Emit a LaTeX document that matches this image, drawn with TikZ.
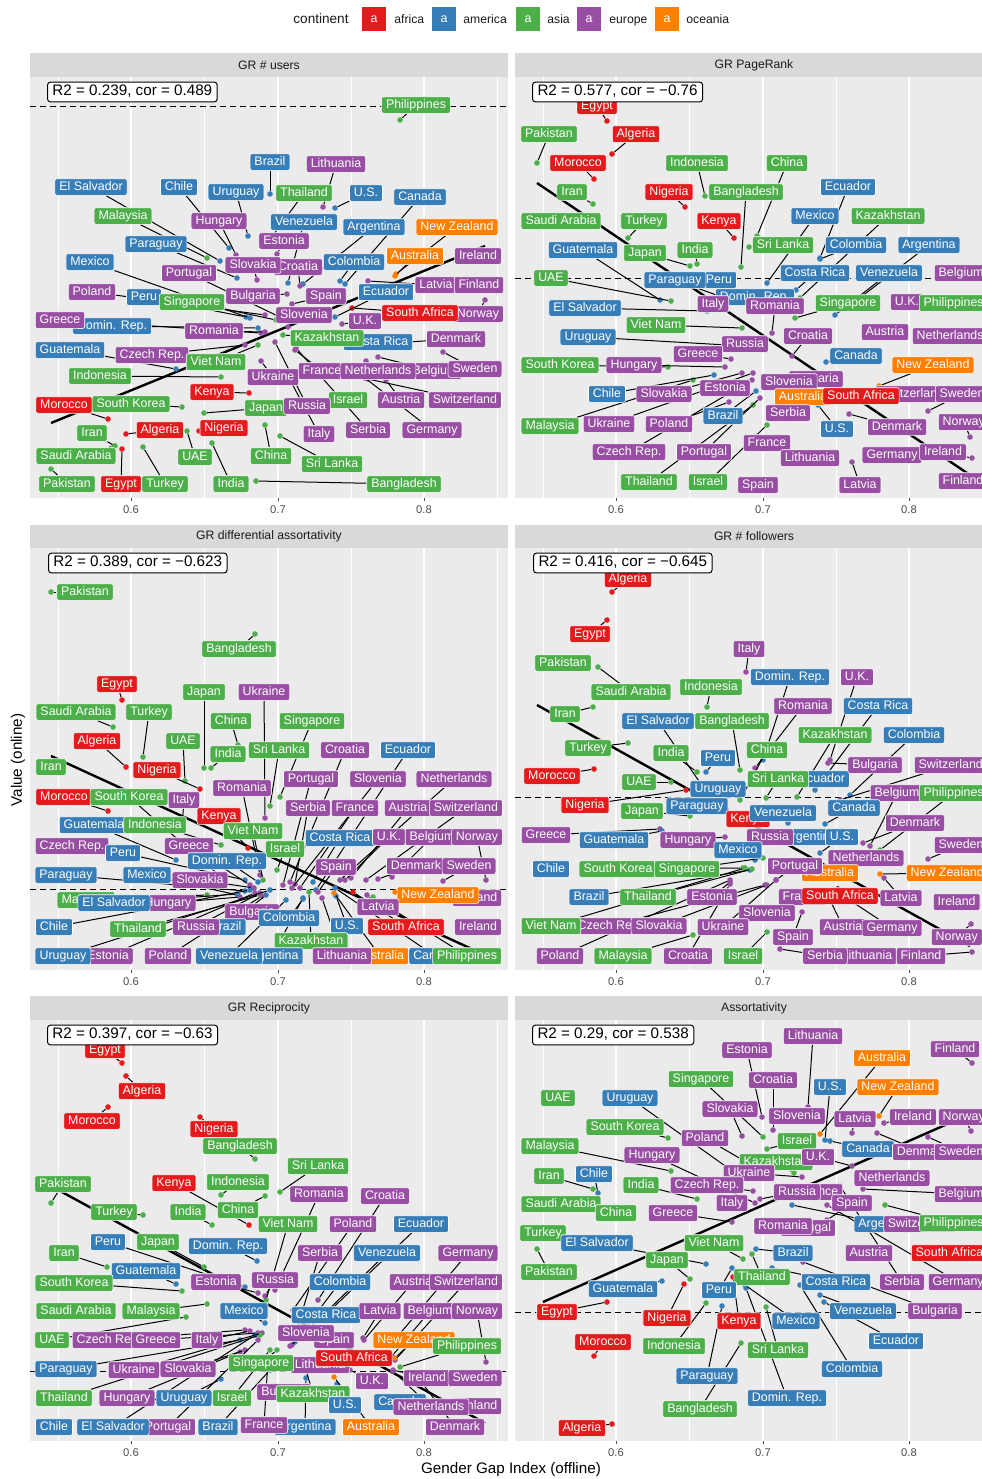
\documentclass[tikz,border=0pt]{standalone}
\usepackage{fontspec}
\setmainfont{Liberation Sans}
\definecolor{cR}{HTML}{E41A1C}
\definecolor{cB}{HTML}{377EB8}
\definecolor{cG}{HTML}{4DAF4A}
\definecolor{cP}{HTML}{984EA3}
\definecolor{cO}{HTML}{FF7F00}
\definecolor{pbg}{HTML}{EBEBEB}
\definecolor{sbg}{HTML}{D9D9D9}
\definecolor{g30}{HTML}{4D4D4D}
\definecolor{g10}{HTML}{1A1A1A}
\tikzset{
  labg/.style={rectangle, font=\fontsize{6.2}{7}\selectfont, inner xsep=2.2pt, inner ysep=1.2pt, text height=4.6pt, text depth=1.3pt},
  lab/.style={labg, rounded corners=1pt, draw=white, line width=0.3pt, text=white},
  pt/.style={circle, inner sep=0pt, minimum size=2.8pt},
  seg/.style={line width=0.5pt, black},
  reg/.style={line width=1.2pt, black},
  hdash/.style={line width=0.5pt, dash pattern=on 3pt off 2pt},
  gminor/.style={white, line width=0.35pt},
  gmajor/.style={white, line width=0.75pt},
  tk/.style={g30, line width=0.5pt},
  tlab/.style={text=g30, font=\fontsize{5.6}{6.5}\selectfont, inner sep=0pt},
  strip/.style={text=g10, font=\fontsize{6.1}{7}\selectfont, inner sep=0pt},
  r2/.style={rectangle, draw=black, fill=white, rounded corners=1.5pt, line width=0.5pt,
    font=\fontsize{7.6}{9}\selectfont, inner xsep=2.5pt, inner ysep=1.4pt, text height=5.5pt, text depth=1.6pt},
  keybox/.style={rectangle, minimum width=12pt, minimum height=12pt, inner sep=0pt,
    text=white, font=\fontsize{6.2}{7}\selectfont},
  legtext/.style={text=g10, font=\fontsize{6.1}{7}\selectfont, inner sep=0pt, anchor=base west},
  legtitle/.style={text=g10, font=\fontsize{6.8}{8}\selectfont, inner sep=0pt, anchor=base west},
  axtitle/.style={font=\fontsize{7.6}{9}\selectfont, inner sep=0pt}
}
\newcounter{lc}
\newcommand\Q{}
\newcommand\Lb{}
% pass A: invisible label geometry + points
\newcommand\PassA{%
  \renewcommand\Q[7][center]{\stepcounter{lc}%
    \path node[labg,anchor=##1] (L\arabic{lc}) at (##2,##3) {\phantom{##5}};%
    \node[pt,fill=##4] (P\arabic{lc}) at (##6,##7) {};}%
  \renewcommand\Lb[5][center]{\stepcounter{lc}}%
}
% pass B: leader segments from point to label
\newcommand\PassB{%
  \renewcommand\Q[7][center]{\stepcounter{lc}\draw[seg] (P\arabic{lc}) -- (L\arabic{lc});}%
  \renewcommand\Lb[5][center]{\stepcounter{lc}}%
}
% pass C: visible labels
\newcommand\PassC{%
  \renewcommand\Q[7][center]{\stepcounter{lc}%
    \node[lab,fill=##4,anchor=##1] (V\arabic{lc}) at (##2,##3) {##5};}%
  \renewcommand\Lb[5][center]{\stepcounter{lc}%
    \node[lab,fill=##4,anchor=##1] (V\arabic{lc}) at (##2,##3) {##5};}%
}
\newcommand\Panel[8]{%
  \fill[sbg] (#2,#4) rectangle (#3,#5);
  \fill[pbg] (#2,#5) rectangle (#3,#6);
  \foreach \g in {58,204.5,351,497.5} {\draw[gminor] ({\g+#8},#5) -- ({\g+#8},#6);}
  \foreach \g in {131,278,424} {\draw[gmajor] ({\g+#8},#5) -- ({\g+#8},#6);}
  \node[strip] (#1t) at ({(#2+#3)/2},{(#4+#5)/2}) {#7};
  \foreach \g/\v in {131/0.6,278/0.7,424/0.8} {
    \draw[tk] ({\g+#8},#6) -- ({\g+#8},{#6+3});
    \node[tlab] (#1x\g) at ({\g+#8},{#6+12}) {\v};
  }
}
\newcommand\Data{%
% ===== Panel 1: GR # users =====
\Q{416}{105}{cG}{Philippines}{400}{120}
\Q{270}{162}{cB}{Brazil}{270}{194}
\Q{336}{164}{cP}{Lithuania}{323}{207}
\Q{91}{187}{cB}{El Salvador}{220}{261}
\Q{179}{187}{cB}{Chile}{229}{248}
\Q{236}{192}{cB}{Uruguay}{248}{236}
\Q{304}{193}{cG}{Thailand}{266}{245}
\Q{366}{193}{cB}{U.S.}{335}{208}
\Q{420}{197}{cB}{Canada}{345}{284}
\Q{123}{216}{cG}{Malaysia}{207}{258}
\Q{219}{221}{cP}{Hungary}{236}{255}
\Q{304}{222}{cB}{Venezuela}{288}{283}
\Q{284}{241}{cP}{Estonia}{277}{254}
\Q{374}{227}{cB}{Argentina}{303}{284}
\Q{457}{227}{cO}{New Zealand}{396}{274}
\Q{156}{244}{cB}{Paraguay}{237}{278}
\Q{90}{262}{cB}{Mexico}{250}{318}
\Q{298}{267}{cP}{Croatia}{300}{286}
\Q{253}{265}{cP}{Slovakia}{257}{280}
\Q{354}{262}{cB}{Colombia}{340}{281}
\Q{415}{256}{cO}{Australia}{395}{276}
\Lb{478}{256}{cP}{Ireland}
\Q{189}{273}{cP}{Portugal}{290}{322}
\Q{436}{285}{cP}{Latvia}{368}{281}
\Lb{479}{285}{cP}{Finland}
\Q{92}{292}{cP}{Poland}{265}{315}
\Q{144}{297}{cB}{Peru}{246}{317}
\Q{253}{296}{cP}{Bulgaria}{287}{294}
\Q{192}{302}{cG}{Singapore}{276}{320}
\Q{326}{296}{cP}{Spain}{292}{304}
\Q{386}{292}{cB}{Ecuador}{335}{317}
\Q{478}{314}{cP}{Norway}{485}{300}
\Q{420}{313}{cR}{South Africa}{352}{308}
\Q{304}{315}{cP}{Slovenia}{288}{327}
\Q{365}{321}{cP}{U.K.}{342}{324}
\Q{112}{326}{cB}{Domin. Rep.}{258}{328}
\Q{60}{320}{cP}{Greece}{261}{333}
\Q{214}{331}{cP}{Romania}{265}{332}
\Lb{378}{342}{cB}{Costa Rica}
\Q{327}{338}{cG}{Kazakhstan}{283}{335}
\Q{456}{339}{cP}{Denmark}{391}{343}
\Q{70}{350}{cB}{Guatemala}{176}{369}
\Q{152}{355}{cP}{Czech Rep.}{245}{345}
\Q{216}{362}{cG}{Viet Nam}{258}{345}
\Q{100}{376}{cG}{Indonesia}{221}{377}
\Q{273}{377}{cP}{Ukraine}{261}{361}
\Q{322}{371}{cP}{France}{295}{350}
\Q{435}{371}{cP}{Belgium}{378}{357}
\Q{378}{371}{cP}{Netherlands}{366}{361}
\Q{475}{369}{cP}{Sweden}{443}{352}
\Q{212}{392}{cR}{Kenya}{249}{393}
\Q{401}{400}{cP}{Austria}{386}{380}
\Q{465}{400}{cP}{Switzerland}{368}{379}
\Q{64}{405}{cR}{Morocco}{108}{419}
\Q{131}{404}{cG}{South Korea}{182}{407}
\Q{266}{408}{cG}{Japan}{204}{413}
\Lb{348}{400}{cG}{Israel}
\Q{307}{406}{cP}{Russia}{275}{342}
\Q{92}{433}{cG}{Iran}{115}{446}
\Q{160}{430}{cR}{Algeria}{126}{434}
\Q{224}{428}{cR}{Nigeria}{199}{431}
\Q{319}{434}{cP}{Italy}{290}{380}
\Q{368}{430}{cP}{Serbia}{296}{348}
\Q{432}{430}{cP}{Germany}{365}{378}
\Q{195}{457}{cG}{UAE}{187}{431}
\Q{271}{456}{cG}{China}{265}{425}
\Q{332}{464}{cG}{Sri Lanka}{280}{436}
\Q{76}{456}{cG}{Saudi Arabia}{114}{446}
\Q{67}{484}{cG}{Pakistan}{51}{469}
\Q{121}{484}{cR}{Egypt}{122}{449}
\Q{165}{484}{cG}{Turkey}{143}{447}
\Q{231}{484}{cG}{India}{212}{443}
\Q{404}{484}{cG}{Bangladesh}{256}{481}
% ===== Panel 2: GR PageRank =====
\Q{597}{106}{cR}{Egypt}{607}{121}
\Q{549}{134}{cG}{Pakistan}{537}{163}
\Q{636}{134}{cR}{Algeria}{612}{154}
\Q{578}{163}{cR}{Morocco}{594}{179}
\Q{697}{163}{cG}{Indonesia}{705}{196}
\Q{787}{163}{cG}{China}{757}{236}
\Q{572}{192}{cG}{Iran}{593}{204}
\Q{669}{192}{cR}{Nigeria}{685}{207}
\Q{746}{192}{cG}{Bangladesh}{741}{267}
\Q{848}{187}{cB}{Ecuador}{820}{258}
\Lb{561}{221}{cG}{Saudi Arabia}
\Q{644}{221}{cG}{Turkey}{628}{238}
\Q{719}{221}{cR}{Kenya}{734}{238}
\Q{815}{216}{cB}{Mexico}{767}{283}
\Q{888}{216}{cG}{Kazakhstan}{800}{298}
\Q{583}{250}{cB}{Guatemala}{660}{300}
\Q{645}{253}{cG}{Japan}{690}{266}
\Q{695}{250}{cG}{India}{697}{264}
\Q{783}{245}{cG}{Sri Lanka}{749}{247}
\Q{856}{245}{cB}{Colombia}{820}{259}
\Q{929}{245}{cB}{Argentina}{853}{303}
\Q{551}{278}{cG}{UAE}{671}{301}
\Q{719}{280}{cB}{Peru}{732}{291}
\Q{675}{280}{cB}{Paraguay}{730}{300}
\Q{815}{273}{cB}{Costa Rica}{796}{290}
\Q{889}{273}{cB}{Venezuela}{835}{315}
\Lb[west]{934}{273}{cP}{Belgium}
\Lb{755}{297}{cB}{Domin. Rep.}
\Q{585}{308}{cB}{El Salvador}{707}{311}
\Lb{713}{304}{cP}{Italy}
\Q{775}{306}{cP}{Romania}{772}{333}
\Q{848}{303}{cG}{Singapore}{795}{318}
\Lb{907}{302}{cP}{U.K.}
\Lb[west]{919}{303}{cG}{Philippines}
\Q{656}{325}{cG}{Viet Nam}{742}{328}
\Q{808}{336}{cP}{Croatia}{792}{356}
\Lb{885}{332}{cP}{Austria}
\Lb[west]{912}{336}{cP}{Netherlands}
\Q{588}{337}{cB}{Uruguay}{727}{345}
\Lb{745}{344}{cP}{Russia}
\Q{698}{354}{cP}{Greece}{731}{359}
\Q{856}{356}{cB}{Canada}{826}{362}
\Q{933}{365}{cO}{New Zealand}{879}{386}
\Q{560}{365}{cG}{South Korea}{668}{367}
\Q{634}{365}{cP}{Hungary}{725}{367}
\Q{607}{394}{cB}{Chile}{714}{375}
\Q{664}{394}{cP}{Slovakia}{742}{373}
\Lb{725}{388}{cP}{Estonia}
\Lb{816}{379}{cP}{Bulgaria}
\Lb{789}{382}{cP}{Slovenia}
\Lb{912}{394}{cP}{Switzerland}
\Lb{803}{397}{cO}{Australia}
\Lb{861}{396}{cR}{South Africa}
\Q[west]{935}{394}{cP}{Sweden}{928}{411}
\Q{550}{426}{cG}{Malaysia}{693}{380}
\Q{609}{424}{cP}{Ukraine}{753}{373}
\Q{669}{424}{cP}{Poland}{729}{402}
\Q{723}{416}{cB}{Brazil}{756}{391}
\Lb{788}{413}{cP}{Serbia}
\Q{837}{429}{cB}{U.S.}{818}{405}
\Q{897}{427}{cP}{Denmark}{849}{414}
\Q[west]{938}{422}{cP}{Norway}{970}{437}
\Q{629}{452}{cP}{Czech Rep.}{752}{380}
\Q{704}{452}{cP}{Portugal}{760}{398}
\Lb{767}{443}{cP}{France}
\Lb{810}{458}{cP}{Lithuania}
\Lb{892}{455}{cP}{Germany}
\Q{943}{452}{cP}{Ireland}{972}{458}
\Q{649}{482}{cG}{Thailand}{753}{405}
\Q{708}{482}{cG}{Israel}{767}{425}
\Lb{758}{485}{cP}{Spain}
\Q{860}{485}{cP}{Latvia}{852}{462}
\Lb[west]{938}{481}{cP}{Finland}
% ===== Panel 3: GR differential assortativity =====
\Q{85}{592}{cG}{Pakistan}{51}{592}
\Q{239}{649}{cG}{Bangladesh}{255}{634}
\Q{117}{684}{cR}{Egypt}{122}{700}
\Q{204}{692}{cG}{Japan}{204}{768}
\Q{264}{692}{cP}{Ukraine}{265}{818}
\Q{76}{712}{cG}{Saudi Arabia}{113}{727}
\Q{149}{712}{cG}{Turkey}{143}{757}
\Q{231}{721}{cG}{China}{238}{745}
\Q{312}{721}{cG}{Singapore}{280}{797}
\Q{183}{741}{cG}{UAE}{185}{781}
\Q{97}{741}{cR}{Algeria}{126}{767}
\Q{228}{754}{cG}{India}{211}{768}
\Q{279}{750}{cG}{Sri Lanka}{270}{806}
\Q{345}{750}{cP}{Croatia}{290}{882}
\Q{408}{750}{cB}{Ecuador}{316}{890}
\Lb{51}{767}{cG}{Iran}
\Q{157}{770}{cR}{Nigeria}{200}{789}
\Q{242}{788}{cP}{Romania}{260}{875}
\Q{311}{779}{cP}{Portugal}{283}{885}
\Q{378}{779}{cP}{Slovenia}{292}{888}
\Q{454}{779}{cP}{Netherlands}{340}{880}
\Q{64}{797}{cR}{Morocco}{108}{811}
\Q{129}{797}{cG}{South Korea}{220}{876}
\Q{184}{800}{cP}{Italy}{182}{827}
\Q{308}{808}{cP}{Serbia}{295}{884}
\Q{355}{808}{cP}{France}{300}{888}
\Q{408}{808}{cP}{Austria}{351}{878}
\Q{466}{808}{cP}{Switzerland}{366}{880}
\Q{219}{816}{cR}{Kenya}{248}{848}
\Q{94}{825}{cB}{Guatemala}{176}{860}
\Q{155}{825}{cG}{Indonesia}{221}{845}
\Q{285}{849}{cG}{Israel}{277}{870}
\Q{253}{831}{cG}{Viet Nam}{263}{880}
\Q{340}{838}{cB}{Costa Rica}{313}{882}
\Q{389}{837}{cP}{U.K.}{345}{880}
\Q{432}{837}{cP}{Belgium}{392}{877}
\Q{477}{837}{cP}{Norway}{486}{880}
\Lb{72}{846}{cP}{Czech Rep.}
\Q{189}{846}{cP}{Greece}{250}{885}
\Q{123}{853}{cB}{Peru}{245}{880}
\Q{227}{861}{cB}{Domin. Rep.}{258}{882}
\Q{336}{867}{cP}{Spain}{318}{892}
\Q{416}{866}{cP}{Denmark}{378}{879}
\Q{469}{866}{cP}{Sweden}{443}{881}
\Q{66}{875}{cB}{Paraguay}{245}{891}
\Q{147}{875}{cB}{Mexico}{238}{895}
\Q{200}{880}{cP}{Slovakia}{254}{888}
\Q{86}{900}{cG}{Malaysia}{207}{895}
\Q{168}{903}{cP}{Hungary}{240}{897}
\Q{114}{903}{cB}{El Salvador}{237}{894}
\Lb{252}{912}{cP}{Bulgaria}
\Lb{477}{898}{cP}{Finland}
\Q{438}{895}{cO}{New Zealand}{395}{892}
\Q{378}{907}{cP}{Latvia}{367}{895}
\Q{289}{918}{cB}{Colombia}{303}{899}
\Q{54}{927}{cB}{Chile}{250}{890}
\Q{138}{929}{cG}{Thailand}{260}{895}
\Q{226}{927}{cB}{Brazil}{266}{895}
\Q{196}{927}{cP}{Russia}{260}{893}
\Q{347}{926}{cB}{U.S.}{336}{896}
\Lb{478}{927}{cP}{Ireland}
\Q{406}{927}{cR}{South Africa}{353}{892}
\Q{311}{941}{cG}{Kazakhstan}{309}{892}
\Q{108}{956}{cP}{Estonia}{255}{893}
\Q{63}{956}{cB}{Uruguay}{270}{890}
\Q{168}{956}{cP}{Poland}{262}{896}
\Q{272}{956}{cB}{Argentina}{303}{898}
\Q{229}{956}{cB}{Venezuela}{286}{900}
\Q{380}{956}{cO}{Australia}{334}{893}
\Q{342}{956}{cP}{Lithuania}{322}{898}
\Q{435}{956}{cB}{Canada}{335}{888}
\Q{467}{956}{cG}{Philippines}{373}{897}
% ===== Panel 4: GR # followers =====
\Q{628}{579}{cR}{Algeria}{612}{592}
\Q{590}{634}{cR}{Egypt}{607}{620}
\Q{749}{649}{cP}{Italy}{746}{672}
\Lb{563}{663}{cG}{Pakistan}
\Q{790}{677}{cB}{Domin. Rep.}{763}{760}
\Q{857}{677}{cP}{U.K.}{830}{760}
\Q{631}{692}{cG}{Saudi Arabia}{598}{667}
\Q{711}{687}{cG}{Indonesia}{707}{707}
\Q{803}{706}{cP}{Romania}{755}{768}
\Q{878}{706}{cB}{Costa Rica}{815}{790}
\Q{565}{714}{cG}{Iran}{593}{707}
\Q{658}{721}{cB}{El Salvador}{705}{790}
\Q{732}{721}{cG}{Bangladesh}{740}{770}
\Q{835}{735}{cG}{Kazakhstan}{797}{797}
\Q{914}{735}{cB}{Colombia}{850}{795}
\Q{588}{748}{cG}{Turkey}{628}{743}
\Q{671}{753}{cG}{India}{697}{772}
\Q{718}{758}{cB}{Peru}{706}{772}
\Q{767}{750}{cG}{China}{740}{800}
\Q{552}{776}{cR}{Morocco}{594}{769}
\Q{639}{782}{cG}{UAE}{671}{782}
\Lb{822}{779}{cB}{Ecuador}
\Q{778}{779}{cG}{Sri Lanka}{766}{798}
\Lb{718}{789}{cB}{Uruguay}
\Q{875}{765}{cP}{Bulgaria}{828}{763}
\Q[west]{914}{765}{cP}{Switzerland}{840}{800}
\Q{585}{805}{cR}{Nigeria}{686}{790}
\Q{897}{793}{cP}{Belgium}{870}{846}
\Q[west]{919}{793}{cG}{Philippines}{880}{850}
\Q{642}{811}{cG}{Japan}{690}{816}
\Q{697}{806}{cB}{Paraguay}{725}{808}
\Lb{748}{819}{cR}{Kenya}
\Q{783}{813}{cB}{Venezuela}{788}{823}
\Q{854}{808}{cB}{Canada}{825}{824}
\Q{915}{823}{cP}{Denmark}{863}{843}
\Q{546}{835}{cP}{Greece}{660}{829}
\Q{614}{840}{cB}{Guatemala}{662}{831}
\Q{688}{840}{cP}{Hungary}{725}{837}
\Lb{810}{837}{cB}{Argentina}
\Lb{770}{837}{cP}{Russia}
\Q{842}{837}{cB}{U.S.}{820}{853}
\Q[west]{934}{845}{cP}{Sweden}{928}{859}
\Q{738}{850}{cB}{Mexico}{755}{860}
\Lb{866}{858}{cP}{Netherlands}
\Lb{551}{869}{cB}{Chile}
\Q{618}{869}{cG}{South Korea}{743}{868}
\Q{687}{869}{cG}{Singapore}{763}{858}
\Lb{830}{873}{cO}{Australia}
\Q{795}{866}{cP}{Portugal}{776}{880}
\Q[west]{906}{873}{cO}{New Zealand}{880}{874}
\Q{589}{897}{cB}{Brazil}{750}{870}
\Q{648}{897}{cG}{Thailand}{752}{869}
\Q{712}{897}{cP}{Estonia}{730}{882}
\Lb{802}{897}{cP}{France}
\Q{840}{896}{cR}{South Africa}{838}{889}
\Q{901}{898}{cP}{Latvia}{884}{878}
\Lb[west]{933}{902}{cP}{Ireland}
\Lb{767}{913}{cP}{Slovenia}
\Q{610}{926}{cP}{Czech Rep.}{765}{885}
\Q{551}{926}{cG}{Viet Nam}{745}{868}
\Q{659}{926}{cP}{Slovakia}{767}{885}
\Q{723}{927}{cP}{Ukraine}{776}{880}
\Q{843}{927}{cP}{Austria}{830}{900}
\Q{892}{928}{cP}{Germany}{851}{901}
\Q[west]{931}{937}{cP}{Norway}{971}{924}
\Q{793}{937}{cP}{Spain}{802}{912}
\Q{560}{956}{cP}{Poland}{730}{880}
\Q{623}{956}{cG}{Malaysia}{693}{935}
\Q{688}{956}{cP}{Croatia}{730}{884}
\Q{743}{956}{cG}{Israel}{767}{932}
\Lb{867}{956}{cP}{Lithuania}
\Q{825}{956}{cP}{Serbia}{780}{949}
\Q{921}{956}{cP}{Finland}{972}{952}
% ===== Panel 5: GR Reciprocity =====
\Q{105}{1050}{cR}{Egypt}{122}{1063}
\Q{142}{1091}{cR}{Algeria}{126}{1076}
\Q{92}{1121}{cR}{Morocco}{108}{1107}
\Q{214}{1129}{cR}{Nigeria}{200}{1117}
\Q{240}{1146}{cG}{Bangladesh}{255}{1159}
\Q{318}{1166}{cG}{Sri Lanka}{280}{1192}
\Q{63}{1184}{cG}{Pakistan}{51}{1203}
\Q{174}{1183}{cR}{Kenya}{249}{1225}
\Q{238}{1182}{cG}{Indonesia}{221}{1195}
\Q{319}{1194}{cP}{Romania}{275}{1290}
\Q{385}{1196}{cP}{Croatia}{318}{1300}
\Q{114}{1212}{cG}{Turkey}{143}{1215}
\Q{188}{1212}{cG}{India}{212}{1225}
\Q{238}{1210}{cG}{China}{265}{1196}
\Q{288}{1224}{cG}{Viet Nam}{266}{1300}
\Q{353}{1224}{cP}{Poland}{293}{1310}
\Q{421}{1224}{cB}{Ecuador}{320}{1320}
\Q{108}{1242}{cB}{Peru}{245}{1287}
\Q{158}{1242}{cG}{Japan}{204}{1267}
\Q{228}{1246}{cB}{Domin. Rep.}{257}{1261}
\Q{320}{1253}{cP}{Serbia}{292}{1345}
\Q{387}{1253}{cB}{Venezuela}{295}{1342}
\Q{468}{1253}{cP}{Germany}{392}{1343}
\Q{64}{1253}{cG}{Iran}{107}{1267}
\Q{146}{1271}{cB}{Guatemala}{176}{1284}
\Q{74}{1283}{cG}{South Korea}{182}{1291}
\Q{216}{1282}{cP}{Estonia}{258}{1293}
\Q{275}{1280}{cP}{Russia}{265}{1296}
\Q{340}{1282}{cB}{Colombia}{300}{1335}
\Q{413}{1282}{cP}{Austria}{364}{1340}
\Q{466}{1282}{cP}{Switzerland}{395}{1360}
\Lb{76}{1311}{cG}{Saudi Arabia}
\Q{151}{1311}{cG}{Malaysia}{207}{1304}
\Q{244}{1311}{cB}{Mexico}{265}{1323}
\Lb{326}{1315}{cB}{Costa Rica}
\Q{380}{1311}{cP}{Latvia}{363}{1338}
\Q{430}{1311}{cP}{Belgium}{392}{1356}
\Q{477}{1311}{cP}{Norway}{486}{1362}
\Q{52}{1340}{cG}{UAE}{186}{1317}
\Q{109}{1340}{cP}{Czech Rep.}{245}{1330}
\Q{156}{1340}{cP}{Greece}{258}{1333}
\Q{207}{1340}{cP}{Italy}{250}{1331}
\Lb{334}{1340}{cP}{Spain}
\Q{306}{1333}{cP}{Slovenia}{290}{1346}
\Q{414}{1340}{cO}{New Zealand}{395}{1358}
\Q{467}{1346}{cG}{Philippines}{400}{1367}
\Lb{320}{1365}{cP}{Lithuania}
\Lb{354}{1358}{cR}{South Africa}
\Q{66}{1369}{cB}{Paraguay}{240}{1340}
\Q{134}{1370}{cP}{Ukraine}{262}{1333}
\Q{188}{1369}{cP}{Slovakia}{245}{1350}
\Q{261}{1363}{cG}{Singapore}{277}{1350}
\Q{372}{1381}{cP}{U.K.}{350}{1370}
\Q{427}{1378}{cP}{Ireland}{393}{1370}
\Lb{475}{1378}{cP}{Sweden}
\Q{64}{1398}{cG}{Thailand}{260}{1335}
\Q{127}{1398}{cP}{Hungary}{240}{1352}
\Q{184}{1398}{cB}{Uruguay}{221}{1379}
\Q{232}{1398}{cG}{Israel}{270}{1350}
\Lb{284}{1392}{cP}{Bulgaria}
\Q{313}{1394}{cG}{Kazakhstan}{306}{1370}
\Q{345}{1405}{cB}{U.S.}{337}{1384}
\Lb{400}{1402}{cB}{Canada}
\Lb{477}{1406}{cP}{Finland}
\Q{431}{1407}{cP}{Netherlands}{393}{1371}
\Lb{54}{1427}{cB}{Chile}
\Q{168}{1427}{cP}{Portugal}{258}{1340}
\Q{113}{1427}{cB}{El Salvador}{255}{1335}
\Q{218}{1427}{cB}{Brazil}{270}{1370}
\Q{305}{1427}{cB}{Argentina}{306}{1378}
\Q{264}{1425}{cP}{France}{268}{1360}
\Q{371}{1427}{cO}{Australia}{334}{1377}
\Q{455}{1427}{cP}{Denmark}{420}{1380}
% ===== Panel 6: Assortativity =====
\Q{813}{1036}{cP}{Lithuania}{808}{1107}
\Q{747}{1050}{cP}{Estonia}{762}{1117}
\Q{955}{1049}{cP}{Finland}{972}{1063}
\Q{882}{1058}{cO}{Australia}{820}{1134}
\Q{701}{1079}{cG}{Singapore}{763}{1137}
\Q{773}{1080}{cP}{Croatia}{773}{1130}
\Q{830}{1087}{cB}{U.S.}{825}{1140}
\Q{898}{1087}{cO}{New Zealand}{879}{1116}
\Lb{558}{1098}{cG}{UAE}
\Q{630}{1098}{cB}{Uruguay}{728}{1168}
\Q{730}{1109}{cP}{Slovakia}{742}{1136}
\Lb{797}{1116}{cP}{Slovenia}
\Q{855}{1119}{cP}{Latvia}{852}{1133}
\Q{913}{1117}{cP}{Ireland}{884}{1123}
\Q[west]{938}{1117}{cP}{Norway}{971}{1131}
\Q{625}{1127}{cG}{South Korea}{668}{1138}
\Q{705}{1138}{cP}{Poland}{765}{1173}
\Q{797}{1141}{cG}{Israel}{767}{1149}
\Q{550}{1146}{cG}{Malaysia}{671}{1171}
\Q{868}{1149}{cB}{Canada}{830}{1141}
\Q{922}{1152}{cP}{Denmark}{877}{1133}
\Q[west]{934}{1152}{cP}{Sweden}{928}{1137}
\Q{652}{1155}{cP}{Hungary}{755}{1203}
\Q{776}{1162}{cG}{Kazakhstan}{794}{1173}
\Q{818}{1157}{cP}{U.K.}{852}{1166}
\Q{549}{1176}{cG}{Iran}{593}{1189}
\Q{594}{1174}{cB}{Chile}{598}{1193}
\Q{749}{1173}{cP}{Ukraine}{802}{1177}
\Lb{892}{1178}{cP}{Netherlands}
\Q{641}{1185}{cG}{India}{697}{1199}
\Q{707}{1185}{cP}{Czech Rep.}{753}{1191}
\Lb{561}{1204}{cG}{Saudi Arabia}
\Lb{819}{1192}{cP}{France}
\Q{797}{1192}{cP}{Russia}{760}{1199}
\Q[west]{934}{1194}{cP}{Belgium}{863}{1189}
\Lb{732}{1203}{cP}{Italy}
\Q{852}{1203}{cP}{Spain}{827}{1220}
\Lb{616}{1213}{cG}{China}
\Q{673}{1213}{cP}{Greece}{732}{1222}
\Lb{808}{1228}{cP}{Portugal}
\Lb{783}{1226}{cP}{Romania}
\Q{885}{1224}{cB}{Argentina}{792}{1205}
\Lb{920}{1224}{cP}{Switzerland}
\Q[west]{919}{1223}{cG}{Philippines}{885}{1205}
\Lb{543}{1233}{cG}{Turkey}
\Q{597}{1243}{cB}{El Salvador}{706}{1264}
\Lb[west]{911}{1253}{cR}{South Africa}
\Q{714}{1243}{cG}{Viet Nam}{743}{1259}
\Lb{869}{1253}{cP}{Austria}
\Q{793}{1253}{cB}{Brazil}{756}{1249}
\Q{667}{1260}{cG}{Japan}{690}{1279}
\Q{549}{1272}{cG}{Pakistan}{537}{1249}
\Q{762}{1277}{cG}{Thailand}{752}{1254}
\Q{902}{1282}{cP}{Serbia}{840}{1186}
\Q[west]{928}{1282}{cP}{Germany}{827}{1205}
\Q{836}{1282}{cB}{Costa Rica}{772}{1268}
\Q{623}{1289}{cB}{Guatemala}{662}{1281}
\Q{719}{1290}{cB}{Peru}{732}{1268}
\Q{557}{1312}{cR}{Egypt}{607}{1302}
\Q{667}{1318}{cR}{Nigeria}{684}{1284}
\Q{863}{1311}{cB}{Venezuela}{820}{1295}
\Q{935}{1311}{cP}{Bulgaria}{803}{1262}
\Q{739}{1321}{cR}{Kenya}{733}{1277}
\Q{796}{1321}{cB}{Mexico}{745}{1285}
\Q{896}{1341}{cB}{Ecuador}{824}{1302}
\Q{603}{1342}{cR}{Morocco}{594}{1356}
\Q{674}{1346}{cG}{Indonesia}{706}{1303}
\Q{778}{1350}{cG}{Sri Lanka}{766}{1307}
\Q{852}{1369}{cB}{Colombia}{800}{1285}
\Q{707}{1376}{cB}{Paraguay}{722}{1306}
\Q{787}{1398}{cB}{Domin. Rep.}{746}{1288}
\Q{700}{1409}{cG}{Bangladesh}{741}{1343}
\Q{582}{1428}{cR}{Algeria}{612}{1424}
}
\begin{document}
\begin{tikzpicture}[x=0.5pt,y=-0.5pt]
\useasboundingbox[fill=white] (0,0) rectangle (981,1479);

% legend
\node[legtitle] (lg0) at (293,23.5) {continent};
\node[keybox, fill=cR] (lg1) at (374,19) {a};
\node[legtext] (lg1t) at (394,23.5) {africa};
\node[keybox, fill=cB] (lg2) at (444,19) {a};
\node[legtext] (lg2t) at (463,23.5) {america};
\node[keybox, fill=cG] (lg3) at (528,19) {a};
\node[legtext] (lg3t) at (547,23.5) {asia};
\node[keybox, fill=cP] (lg4) at (589,19) {a};
\node[legtext] (lg4t) at (609,23.5) {europe};
\node[keybox, fill=cO] (lg5) at (667,19) {a};
\node[legtext] (lg5t) at (686,23.5) {oceania};

\Panel{pa}{30}{508}{53}{77}{498}{GR \# users}{0}
\Panel{pb}{515}{993}{53}{77}{498}{GR PageRank}{485}
\Panel{pc}{30}{508}{525}{548}{970}{GR differential assortativity}{0}
\Panel{pd}{515}{993}{525}{548}{970}{GR \# followers}{485}
\Panel{pe}{30}{508}{996}{1020}{1441}{GR Reciprocity}{0}
\Panel{pf}{515}{993}{996}{1020}{1441}{Assortativity}{485}

\node[axtitle, rotate=90] (ytitle) at (18,760) {Value (online)};
\node[axtitle] (xtitle) at (511,1470) {Gender Gap Index (offline)};

\draw[hdash] (30,106) -- (508,106);
\draw[hdash] (515,278) -- (993,278);
\draw[hdash] (30,889) -- (508,889);
\draw[hdash] (515,797) -- (993,797);
\draw[hdash] (30,1371) -- (508,1371);
\draw[hdash] (515,1312) -- (993,1312);
\draw[reg] (51,423) -- (485,246);
\draw[reg] (537,183) -- (970,475);
\draw[reg] (51,756) -- (485,955);
\draw[reg] (537,705) -- (970,946);
\draw[reg] (51,1186) -- (485,1423);
\draw[reg] (543,1302) -- (977,1111);

\setcounter{lc}{0}\PassA\Data
\setcounter{lc}{0}\PassB\Data
\setcounter{lc}{0}\PassC\Data

% R2 boxes (on top)
\node[r2, anchor=west] (ra) at (47,92) {R2 = 0.239, cor = 0.489};
\node[r2, anchor=west] (rb) at (532,92) {R2 = 0.577, cor = −0.76};
\node[r2, anchor=west] (rc) at (48,563) {R2 = 0.389, cor = −0.623};
\node[r2, anchor=west] (rd) at (533,563) {R2 = 0.416, cor = −0.645};
\node[r2, anchor=west] (re) at (47,1035) {R2 = 0.397, cor = −0.63};
\node[r2, anchor=west] (rf) at (532,1035) {R2 = 0.29, cor = 0.538};
\end{tikzpicture}
\end{document}
